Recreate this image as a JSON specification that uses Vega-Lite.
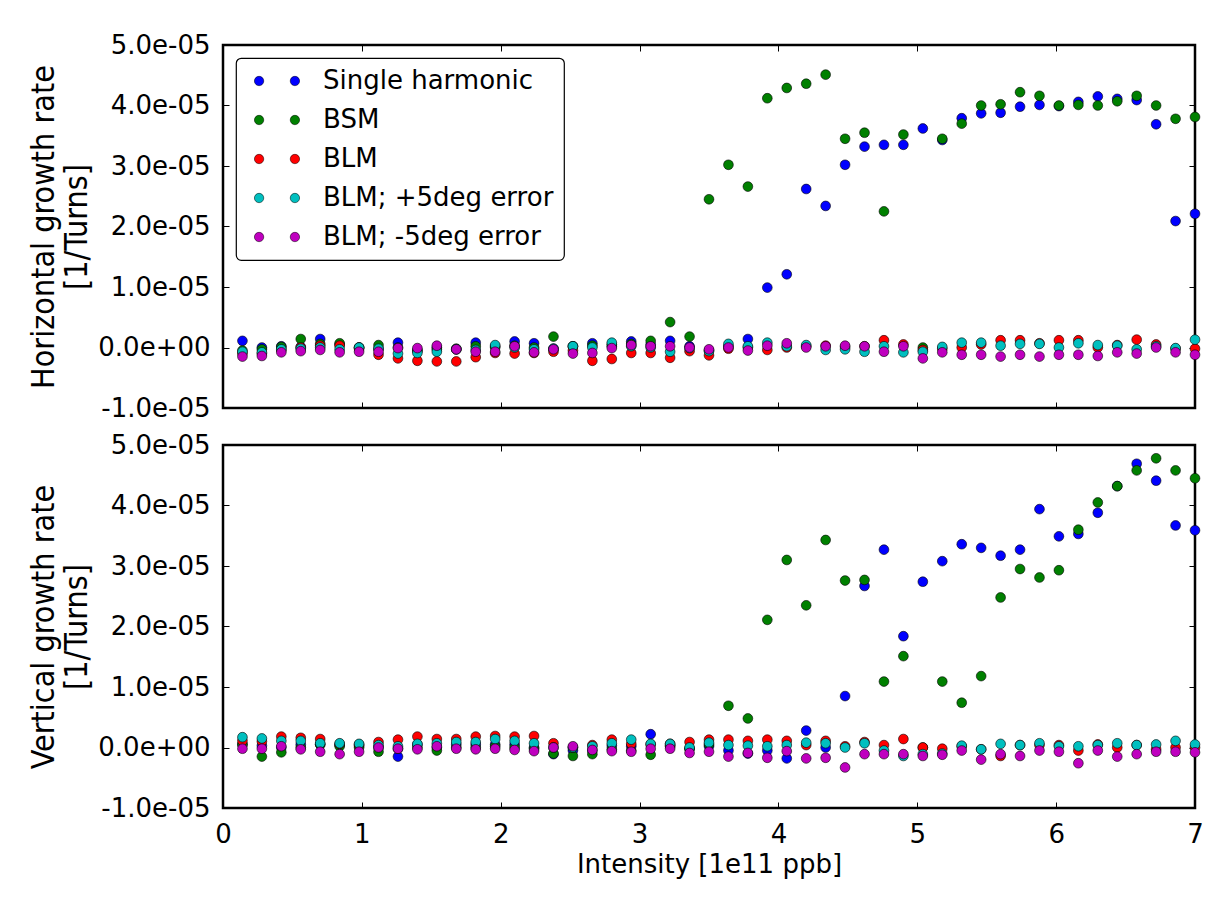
{
"$schema": "https://vega.github.io/schema/vega-lite/v6.json",
"padding": {"left": 26, "top": 30, "right": 10, "bottom": 10},
"background": "#ffffff",
"spacing": 7,
"config": {
  "font": "DejaVu Sans",
  "view": {"stroke": "#000000", "strokeWidth": 2.5},
  "axis": {"domain": false, "grid": false, "tickColor": "#000000", "tickSize": -6, "tickWidth": 1, "labelFont": "DejaVu Sans", "labelFontSize": 26, "labelColor": "#000000", "labelFlush": false, "labelOverlap": false, "labelPadding": 19, "titleFont": "DejaVu Sans", "titleFontWeight": "normal", "titleColor": "#000000"},
  "legend": {"strokeWidth": 1.2}
},
"datasets": {
"H": [
{"s":"Single harmonic","x":0.14,"y":0.11e-5},{"s":"Single harmonic","x":0.28,"y":0.0e-5},{"s":"Single harmonic","x":0.42,"y":0.02e-5},{"s":"Single harmonic","x":0.56,"y":0.01e-5},{"s":"Single harmonic","x":0.7,"y":0.14e-5},{"s":"Single harmonic","x":0.84,"y":0.05e-5},{"s":"Single harmonic","x":0.98,"y":0.0e-5},{"s":"Single harmonic","x":1.12,"y":-0.02e-5},{"s":"Single harmonic","x":1.26,"y":0.08e-5},{"s":"Single harmonic","x":1.4,"y":-0.05e-5},
{"s":"Single harmonic","x":1.54,"y":0.0e-5},{"s":"Single harmonic","x":1.68,"y":-0.03e-5},{"s":"Single harmonic","x":1.82,"y":0.08e-5},{"s":"Single harmonic","x":1.96,"y":0.02e-5},{"s":"Single harmonic","x":2.1,"y":0.10e-5},{"s":"Single harmonic","x":2.24,"y":0.07e-5},{"s":"Single harmonic","x":2.38,"y":-0.02e-5},{"s":"Single harmonic","x":2.52,"y":0.02e-5},{"s":"Single harmonic","x":2.66,"y":0.07e-5},{"s":"Single harmonic","x":2.8,"y":0.02e-5},
{"s":"Single harmonic","x":2.94,"y":0.10e-5},{"s":"Single harmonic","x":3.08,"y":0.05e-5},{"s":"Single harmonic","x":3.22,"y":0.11e-5},{"s":"Single harmonic","x":3.36,"y":0.02e-5},{"s":"Single harmonic","x":3.5,"y":-0.05e-5},{"s":"Single harmonic","x":3.64,"y":0.02e-5},{"s":"Single harmonic","x":3.78,"y":0.14e-5},{"s":"Single harmonic","x":3.92,"y":0.99e-5},{"s":"Single harmonic","x":4.06,"y":1.21e-5},{"s":"Single harmonic","x":4.2,"y":2.62e-5},
{"s":"Single harmonic","x":4.34,"y":2.34e-5},{"s":"Single harmonic","x":4.48,"y":3.02e-5},{"s":"Single harmonic","x":4.62,"y":3.32e-5},{"s":"Single harmonic","x":4.76,"y":3.35e-5},{"s":"Single harmonic","x":4.9,"y":3.35e-5},{"s":"Single harmonic","x":5.04,"y":3.62e-5},{"s":"Single harmonic","x":5.18,"y":3.43e-5},{"s":"Single harmonic","x":5.32,"y":3.79e-5},{"s":"Single harmonic","x":5.46,"y":3.87e-5},{"s":"Single harmonic","x":5.6,"y":3.88e-5},
{"s":"Single harmonic","x":5.74,"y":3.98e-5},{"s":"Single harmonic","x":5.88,"y":4.01e-5},{"s":"Single harmonic","x":6.02,"y":3.99e-5},{"s":"Single harmonic","x":6.16,"y":4.06e-5},{"s":"Single harmonic","x":6.3,"y":4.15e-5},{"s":"Single harmonic","x":6.44,"y":4.11e-5},{"s":"Single harmonic","x":6.58,"y":4.09e-5},{"s":"Single harmonic","x":6.72,"y":3.69e-5},{"s":"Single harmonic","x":6.86,"y":2.09e-5},{"s":"Single harmonic","x":7.0,"y":2.21e-5},
{"s":"BSM","x":0.14,"y":-0.05e-5},{"s":"BSM","x":0.28,"y":-0.03e-5},{"s":"BSM","x":0.42,"y":0.01e-5},{"s":"BSM","x":0.56,"y":0.14e-5},{"s":"BSM","x":0.7,"y":0.06e-5},{"s":"BSM","x":0.84,"y":0.07e-5},{"s":"BSM","x":0.98,"y":0.0e-5},{"s":"BSM","x":1.12,"y":0.04e-5},{"s":"BSM","x":1.26,"y":0.0e-5},{"s":"BSM","x":1.4,"y":-0.05e-5},
{"s":"BSM","x":1.54,"y":-0.03e-5},{"s":"BSM","x":1.68,"y":-0.02e-5},{"s":"BSM","x":1.82,"y":0.02e-5},{"s":"BSM","x":1.96,"y":0.0e-5},{"s":"BSM","x":2.1,"y":0.03e-5},{"s":"BSM","x":2.24,"y":0.0e-5},{"s":"BSM","x":2.38,"y":0.18e-5},{"s":"BSM","x":2.52,"y":0.02e-5},{"s":"BSM","x":2.66,"y":0.03e-5},{"s":"BSM","x":2.8,"y":0.05e-5},
{"s":"BSM","x":2.94,"y":0.06e-5},{"s":"BSM","x":3.08,"y":0.11e-5},{"s":"BSM","x":3.22,"y":0.42e-5},{"s":"BSM","x":3.36,"y":0.18e-5},{"s":"BSM","x":3.5,"y":2.45e-5},{"s":"BSM","x":3.64,"y":3.02e-5},{"s":"BSM","x":3.78,"y":2.66e-5},{"s":"BSM","x":3.92,"y":4.12e-5},{"s":"BSM","x":4.06,"y":4.29e-5},{"s":"BSM","x":4.2,"y":4.36e-5},
{"s":"BSM","x":4.34,"y":4.51e-5},{"s":"BSM","x":4.48,"y":3.45e-5},{"s":"BSM","x":4.62,"y":3.55e-5},{"s":"BSM","x":4.76,"y":2.25e-5},{"s":"BSM","x":4.9,"y":3.52e-5},{"s":"BSM","x":5.04,"y":0.0e-5},{"s":"BSM","x":5.18,"y":3.45e-5},{"s":"BSM","x":5.32,"y":3.70e-5},{"s":"BSM","x":5.46,"y":4.00e-5},{"s":"BSM","x":5.6,"y":4.02e-5},
{"s":"BSM","x":5.74,"y":4.22e-5},{"s":"BSM","x":5.88,"y":4.16e-5},{"s":"BSM","x":6.02,"y":4.00e-5},{"s":"BSM","x":6.16,"y":4.01e-5},{"s":"BSM","x":6.3,"y":4.00e-5},{"s":"BSM","x":6.44,"y":4.07e-5},{"s":"BSM","x":6.58,"y":4.16e-5},{"s":"BSM","x":6.72,"y":4.00e-5},{"s":"BSM","x":6.86,"y":3.78e-5},{"s":"BSM","x":7.0,"y":3.81e-5},
{"s":"BLM","x":0.14,"y":-0.10e-5},{"s":"BLM","x":0.28,"y":-0.10e-5},{"s":"BLM","x":0.42,"y":-0.04e-5},{"s":"BLM","x":0.56,"y":0.0e-5},{"s":"BLM","x":0.7,"y":0.03e-5},{"s":"BLM","x":0.84,"y":0.03e-5},{"s":"BLM","x":0.98,"y":-0.02e-5},{"s":"BLM","x":1.12,"y":-0.12e-5},{"s":"BLM","x":1.26,"y":-0.18e-5},{"s":"BLM","x":1.4,"y":-0.22e-5},
{"s":"BLM","x":1.54,"y":-0.23e-5},{"s":"BLM","x":1.68,"y":-0.23e-5},{"s":"BLM","x":1.82,"y":-0.16e-5},{"s":"BLM","x":1.96,"y":-0.09e-5},{"s":"BLM","x":2.1,"y":-0.10e-5},{"s":"BLM","x":2.24,"y":-0.09e-5},{"s":"BLM","x":2.38,"y":-0.07e-5},{"s":"BLM","x":2.52,"y":-0.05e-5},{"s":"BLM","x":2.66,"y":-0.22e-5},{"s":"BLM","x":2.8,"y":-0.19e-5},
{"s":"BLM","x":2.94,"y":-0.09e-5},{"s":"BLM","x":3.08,"y":-0.09e-5},{"s":"BLM","x":3.22,"y":-0.17e-5},{"s":"BLM","x":3.36,"y":-0.06e-5},{"s":"BLM","x":3.5,"y":-0.13e-5},{"s":"BLM","x":3.64,"y":-0.02e-5},{"s":"BLM","x":3.78,"y":0.0e-5},{"s":"BLM","x":3.92,"y":-0.04e-5},{"s":"BLM","x":4.06,"y":0.0e-5},{"s":"BLM","x":4.2,"y":0.02e-5},
{"s":"BLM","x":4.34,"y":0.03e-5},{"s":"BLM","x":4.48,"y":0.01e-5},{"s":"BLM","x":4.62,"y":0.02e-5},{"s":"BLM","x":4.76,"y":0.12e-5},{"s":"BLM","x":4.9,"y":0.05e-5},{"s":"BLM","x":5.04,"y":-0.04e-5},{"s":"BLM","x":5.18,"y":-0.02e-5},{"s":"BLM","x":5.32,"y":0.0e-5},{"s":"BLM","x":5.46,"y":0.05e-5},{"s":"BLM","x":5.6,"y":0.12e-5},
{"s":"BLM","x":5.74,"y":0.12e-5},{"s":"BLM","x":5.88,"y":0.07e-5},{"s":"BLM","x":6.02,"y":0.12e-5},{"s":"BLM","x":6.16,"y":0.12e-5},{"s":"BLM","x":6.3,"y":0.0e-5},{"s":"BLM","x":6.44,"y":0.04e-5},{"s":"BLM","x":6.58,"y":0.13e-5},{"s":"BLM","x":6.72,"y":0.05e-5},{"s":"BLM","x":6.86,"y":-0.02e-5},{"s":"BLM","x":7.0,"y":-0.02e-5},
{"s":"BLM; +5deg error","x":0.14,"y":-0.07e-5},{"s":"BLM; +5deg error","x":0.28,"y":-0.08e-5},{"s":"BLM; +5deg error","x":0.42,"y":-0.03e-5},{"s":"BLM; +5deg error","x":0.56,"y":-0.02e-5},{"s":"BLM; +5deg error","x":0.7,"y":0.0e-5},{"s":"BLM; +5deg error","x":0.84,"y":-0.03e-5},{"s":"BLM; +5deg error","x":0.98,"y":0.0e-5},{"s":"BLM; +5deg error","x":1.12,"y":-0.02e-5},{"s":"BLM; +5deg error","x":1.26,"y":-0.10e-5},{"s":"BLM; +5deg error","x":1.4,"y":-0.09e-5},
{"s":"BLM; +5deg error","x":1.54,"y":-0.07e-5},{"s":"BLM; +5deg error","x":1.68,"y":-0.03e-5},{"s":"BLM; +5deg error","x":1.82,"y":-0.04e-5},{"s":"BLM; +5deg error","x":1.96,"y":0.04e-5},{"s":"BLM; +5deg error","x":2.1,"y":0.0e-5},{"s":"BLM; +5deg error","x":2.24,"y":-0.03e-5},{"s":"BLM; +5deg error","x":2.38,"y":-0.02e-5},{"s":"BLM; +5deg error","x":2.52,"y":0.02e-5},{"s":"BLM; +5deg error","x":2.66,"y":0.0e-5},{"s":"BLM; +5deg error","x":2.8,"y":0.08e-5},
{"s":"BLM; +5deg error","x":2.94,"y":0.02e-5},{"s":"BLM; +5deg error","x":3.08,"y":0.0e-5},{"s":"BLM; +5deg error","x":3.22,"y":-0.07e-5},{"s":"BLM; +5deg error","x":3.36,"y":-0.01e-5},{"s":"BLM; +5deg error","x":3.5,"y":-0.06e-5},{"s":"BLM; +5deg error","x":3.64,"y":0.06e-5},{"s":"BLM; +5deg error","x":3.78,"y":0.02e-5},{"s":"BLM; +5deg error","x":3.92,"y":0.08e-5},{"s":"BLM; +5deg error","x":4.06,"y":0.02e-5},{"s":"BLM; +5deg error","x":4.2,"y":0.04e-5},
{"s":"BLM; +5deg error","x":4.34,"y":-0.04e-5},{"s":"BLM; +5deg error","x":4.48,"y":-0.03e-5},{"s":"BLM; +5deg error","x":4.62,"y":-0.07e-5},{"s":"BLM; +5deg error","x":4.76,"y":0.02e-5},{"s":"BLM; +5deg error","x":4.9,"y":-0.08e-5},{"s":"BLM; +5deg error","x":5.04,"y":-0.07e-5},{"s":"BLM; +5deg error","x":5.18,"y":0.01e-5},{"s":"BLM; +5deg error","x":5.32,"y":0.08e-5},{"s":"BLM; +5deg error","x":5.46,"y":0.08e-5},{"s":"BLM; +5deg error","x":5.6,"y":0.03e-5},
{"s":"BLM; +5deg error","x":5.74,"y":0.06e-5},{"s":"BLM; +5deg error","x":5.88,"y":0.06e-5},{"s":"BLM; +5deg error","x":6.02,"y":0.0e-5},{"s":"BLM; +5deg error","x":6.16,"y":0.07e-5},{"s":"BLM; +5deg error","x":6.3,"y":0.04e-5},{"s":"BLM; +5deg error","x":6.44,"y":0.03e-5},{"s":"BLM; +5deg error","x":6.58,"y":-0.03e-5},{"s":"BLM; +5deg error","x":6.72,"y":0.02e-5},{"s":"BLM; +5deg error","x":6.86,"y":-0.01e-5},{"s":"BLM; +5deg error","x":7.0,"y":0.13e-5},
{"s":"BLM; -5deg error","x":0.14,"y":-0.15e-5},{"s":"BLM; -5deg error","x":0.28,"y":-0.14e-5},{"s":"BLM; -5deg error","x":0.42,"y":-0.08e-5},{"s":"BLM; -5deg error","x":0.56,"y":-0.06e-5},{"s":"BLM; -5deg error","x":0.7,"y":-0.04e-5},{"s":"BLM; -5deg error","x":0.84,"y":-0.08e-5},{"s":"BLM; -5deg error","x":0.98,"y":-0.07e-5},{"s":"BLM; -5deg error","x":1.12,"y":-0.07e-5},{"s":"BLM; -5deg error","x":1.26,"y":-0.01e-5},{"s":"BLM; -5deg error","x":1.4,"y":-0.01e-5},
{"s":"BLM; -5deg error","x":1.54,"y":0.03e-5},{"s":"BLM; -5deg error","x":1.68,"y":-0.03e-5},{"s":"BLM; -5deg error","x":1.82,"y":-0.07e-5},{"s":"BLM; -5deg error","x":1.96,"y":-0.07e-5},{"s":"BLM; -5deg error","x":2.1,"y":0.02e-5},{"s":"BLM; -5deg error","x":2.24,"y":-0.08e-5},{"s":"BLM; -5deg error","x":2.38,"y":-0.03e-5},{"s":"BLM; -5deg error","x":2.52,"y":-0.10e-5},{"s":"BLM; -5deg error","x":2.66,"y":-0.09e-5},{"s":"BLM; -5deg error","x":2.8,"y":-0.01e-5},
{"s":"BLM; -5deg error","x":2.94,"y":0.04e-5},{"s":"BLM; -5deg error","x":3.08,"y":0.02e-5},{"s":"BLM; -5deg error","x":3.22,"y":0.02e-5},{"s":"BLM; -5deg error","x":3.36,"y":0.0e-5},{"s":"BLM; -5deg error","x":3.5,"y":-0.03e-5},{"s":"BLM; -5deg error","x":3.64,"y":0.0e-5},{"s":"BLM; -5deg error","x":3.78,"y":-0.05e-5},{"s":"BLM; -5deg error","x":3.92,"y":0.03e-5},{"s":"BLM; -5deg error","x":4.06,"y":0.07e-5},{"s":"BLM; -5deg error","x":4.2,"y":0.0e-5},
{"s":"BLM; -5deg error","x":4.34,"y":0.02e-5},{"s":"BLM; -5deg error","x":4.48,"y":0.03e-5},{"s":"BLM; -5deg error","x":4.62,"y":0.02e-5},{"s":"BLM; -5deg error","x":4.76,"y":-0.07e-5},{"s":"BLM; -5deg error","x":4.9,"y":0.02e-5},{"s":"BLM; -5deg error","x":5.04,"y":-0.18e-5},{"s":"BLM; -5deg error","x":5.18,"y":-0.08e-5},{"s":"BLM; -5deg error","x":5.32,"y":-0.12e-5},{"s":"BLM; -5deg error","x":5.46,"y":-0.12e-5},{"s":"BLM; -5deg error","x":5.6,"y":-0.15e-5},
{"s":"BLM; -5deg error","x":5.74,"y":-0.12e-5},{"s":"BLM; -5deg error","x":5.88,"y":-0.15e-5},{"s":"BLM; -5deg error","x":6.02,"y":-0.12e-5},{"s":"BLM; -5deg error","x":6.16,"y":-0.12e-5},{"s":"BLM; -5deg error","x":6.3,"y":-0.14e-5},{"s":"BLM; -5deg error","x":6.44,"y":-0.08e-5},{"s":"BLM; -5deg error","x":6.58,"y":-0.10e-5},{"s":"BLM; -5deg error","x":6.72,"y":0.0e-5},{"s":"BLM; -5deg error","x":6.86,"y":-0.08e-5},{"s":"BLM; -5deg error","x":7.0,"y":-0.12e-5}
],
"V": [
{"s":"Single harmonic","x":0.14,"y":0.05e-5},{"s":"Single harmonic","x":0.28,"y":0.03e-5},{"s":"Single harmonic","x":0.42,"y":0.0e-5},{"s":"Single harmonic","x":0.56,"y":0.05e-5},{"s":"Single harmonic","x":0.7,"y":0.05e-5},{"s":"Single harmonic","x":0.84,"y":0.04e-5},{"s":"Single harmonic","x":0.98,"y":0.03e-5},{"s":"Single harmonic","x":1.12,"y":0.0e-5},{"s":"Single harmonic","x":1.26,"y":-0.15e-5},{"s":"Single harmonic","x":1.4,"y":0.05e-5},
{"s":"Single harmonic","x":1.54,"y":0.0e-5},{"s":"Single harmonic","x":1.68,"y":0.05e-5},{"s":"Single harmonic","x":1.82,"y":0.05e-5},{"s":"Single harmonic","x":1.96,"y":0.05e-5},{"s":"Single harmonic","x":2.1,"y":0.05e-5},{"s":"Single harmonic","x":2.24,"y":0.0e-5},{"s":"Single harmonic","x":2.38,"y":-0.11e-5},{"s":"Single harmonic","x":2.52,"y":-0.05e-5},{"s":"Single harmonic","x":2.66,"y":-0.05e-5},{"s":"Single harmonic","x":2.8,"y":0.03e-5},
{"s":"Single harmonic","x":2.94,"y":0.02e-5},{"s":"Single harmonic","x":3.08,"y":0.22e-5},{"s":"Single harmonic","x":3.22,"y":0.03e-5},{"s":"Single harmonic","x":3.36,"y":-0.02e-5},{"s":"Single harmonic","x":3.5,"y":0.02e-5},{"s":"Single harmonic","x":3.64,"y":-0.05e-5},{"s":"Single harmonic","x":3.78,"y":-0.10e-5},{"s":"Single harmonic","x":3.92,"y":-0.05e-5},{"s":"Single harmonic","x":4.06,"y":-0.18e-5},{"s":"Single harmonic","x":4.2,"y":0.28e-5},
{"s":"Single harmonic","x":4.34,"y":0.0e-5},{"s":"Single harmonic","x":4.48,"y":0.85e-5},{"s":"Single harmonic","x":4.62,"y":2.67e-5},{"s":"Single harmonic","x":4.76,"y":3.27e-5},{"s":"Single harmonic","x":4.9,"y":1.84e-5},{"s":"Single harmonic","x":5.04,"y":2.74e-5},{"s":"Single harmonic","x":5.18,"y":3.08e-5},{"s":"Single harmonic","x":5.32,"y":3.36e-5},{"s":"Single harmonic","x":5.46,"y":3.30e-5},{"s":"Single harmonic","x":5.6,"y":3.17e-5},
{"s":"Single harmonic","x":5.74,"y":3.27e-5},{"s":"Single harmonic","x":5.88,"y":3.94e-5},{"s":"Single harmonic","x":6.02,"y":3.49e-5},{"s":"Single harmonic","x":6.16,"y":3.53e-5},{"s":"Single harmonic","x":6.3,"y":3.88e-5},{"s":"Single harmonic","x":6.44,"y":4.32e-5},{"s":"Single harmonic","x":6.58,"y":4.69e-5},{"s":"Single harmonic","x":6.72,"y":4.41e-5},{"s":"Single harmonic","x":6.86,"y":3.67e-5},{"s":"Single harmonic","x":7.0,"y":3.59e-5},
{"s":"BSM","x":0.14,"y":0.05e-5},{"s":"BSM","x":0.28,"y":-0.15e-5},{"s":"BSM","x":0.42,"y":-0.08e-5},{"s":"BSM","x":0.56,"y":0.0e-5},{"s":"BSM","x":0.7,"y":0.05e-5},{"s":"BSM","x":0.84,"y":0.02e-5},{"s":"BSM","x":0.98,"y":0.0e-5},{"s":"BSM","x":1.12,"y":-0.07e-5},{"s":"BSM","x":1.26,"y":-0.02e-5},{"s":"BSM","x":1.4,"y":0.0e-5},
{"s":"BSM","x":1.54,"y":-0.05e-5},{"s":"BSM","x":1.68,"y":0.0e-5},{"s":"BSM","x":1.82,"y":0.0e-5},{"s":"BSM","x":1.96,"y":0.02e-5},{"s":"BSM","x":2.1,"y":0.0e-5},{"s":"BSM","x":2.24,"y":-0.02e-5},{"s":"BSM","x":2.38,"y":-0.10e-5},{"s":"BSM","x":2.52,"y":-0.14e-5},{"s":"BSM","x":2.66,"y":-0.11e-5},{"s":"BSM","x":2.8,"y":-0.03e-5},
{"s":"BSM","x":2.94,"y":-0.05e-5},{"s":"BSM","x":3.08,"y":-0.12e-5},{"s":"BSM","x":3.22,"y":0.02e-5},{"s":"BSM","x":3.36,"y":-0.02e-5},{"s":"BSM","x":3.5,"y":0.05e-5},{"s":"BSM","x":3.64,"y":0.69e-5},{"s":"BSM","x":3.78,"y":0.48e-5},{"s":"BSM","x":3.92,"y":2.11e-5},{"s":"BSM","x":4.06,"y":3.10e-5},{"s":"BSM","x":4.2,"y":2.35e-5},
{"s":"BSM","x":4.34,"y":3.43e-5},{"s":"BSM","x":4.48,"y":2.76e-5},{"s":"BSM","x":4.62,"y":2.77e-5},{"s":"BSM","x":4.76,"y":1.09e-5},{"s":"BSM","x":4.9,"y":1.51e-5},{"s":"BSM","x":5.04,"y":0.0e-5},{"s":"BSM","x":5.18,"y":1.09e-5},{"s":"BSM","x":5.32,"y":0.74e-5},{"s":"BSM","x":5.46,"y":1.18e-5},{"s":"BSM","x":5.6,"y":2.48e-5},
{"s":"BSM","x":5.74,"y":2.95e-5},{"s":"BSM","x":5.88,"y":2.81e-5},{"s":"BSM","x":6.02,"y":2.93e-5},{"s":"BSM","x":6.16,"y":3.60e-5},{"s":"BSM","x":6.3,"y":4.05e-5},{"s":"BSM","x":6.44,"y":4.32e-5},{"s":"BSM","x":6.58,"y":4.58e-5},{"s":"BSM","x":6.72,"y":4.78e-5},{"s":"BSM","x":6.86,"y":4.58e-5},{"s":"BSM","x":7.0,"y":4.45e-5},
{"s":"BLM","x":0.14,"y":0.11e-5},{"s":"BLM","x":0.28,"y":0.10e-5},{"s":"BLM","x":0.42,"y":0.18e-5},{"s":"BLM","x":0.56,"y":0.16e-5},{"s":"BLM","x":0.7,"y":0.14e-5},{"s":"BLM","x":0.84,"y":0.06e-5},{"s":"BLM","x":0.98,"y":0.05e-5},{"s":"BLM","x":1.12,"y":0.09e-5},{"s":"BLM","x":1.26,"y":0.13e-5},{"s":"BLM","x":1.4,"y":0.18e-5},
{"s":"BLM","x":1.54,"y":0.14e-5},{"s":"BLM","x":1.68,"y":0.14e-5},{"s":"BLM","x":1.82,"y":0.18e-5},{"s":"BLM","x":1.96,"y":0.19e-5},{"s":"BLM","x":2.1,"y":0.18e-5},{"s":"BLM","x":2.24,"y":0.19e-5},{"s":"BLM","x":2.38,"y":0.07e-5},{"s":"BLM","x":2.52,"y":0.0e-5},{"s":"BLM","x":2.66,"y":0.04e-5},{"s":"BLM","x":2.8,"y":0.13e-5},
{"s":"BLM","x":2.94,"y":0.06e-5},{"s":"BLM","x":3.08,"y":0.05e-5},{"s":"BLM","x":3.22,"y":0.06e-5},{"s":"BLM","x":3.36,"y":0.09e-5},{"s":"BLM","x":3.5,"y":0.13e-5},{"s":"BLM","x":3.64,"y":0.13e-5},{"s":"BLM","x":3.78,"y":0.11e-5},{"s":"BLM","x":3.92,"y":0.13e-5},{"s":"BLM","x":4.06,"y":0.11e-5},{"s":"BLM","x":4.2,"y":0.04e-5},
{"s":"BLM","x":4.34,"y":0.11e-5},{"s":"BLM","x":4.48,"y":0.02e-5},{"s":"BLM","x":4.62,"y":0.09e-5},{"s":"BLM","x":4.76,"y":0.04e-5},{"s":"BLM","x":4.9,"y":0.14e-5},{"s":"BLM","x":5.04,"y":0.0e-5},{"s":"BLM","x":5.18,"y":-0.02e-5},{"s":"BLM","x":5.32,"y":0.02e-5},{"s":"BLM","x":5.46,"y":-0.03e-5},{"s":"BLM","x":5.6,"y":-0.14e-5},
{"s":"BLM","x":5.74,"y":0.04e-5},{"s":"BLM","x":5.88,"y":0.04e-5},{"s":"BLM","x":6.02,"y":0.04e-5},{"s":"BLM","x":6.16,"y":-0.05e-5},{"s":"BLM","x":6.3,"y":0.05e-5},{"s":"BLM","x":6.44,"y":0.0e-5},{"s":"BLM","x":6.58,"y":0.04e-5},{"s":"BLM","x":6.72,"y":-0.03e-5},{"s":"BLM","x":6.86,"y":0.0e-5},{"s":"BLM","x":7.0,"y":0.0e-5},
{"s":"BLM; +5deg error","x":0.14,"y":0.17e-5},{"s":"BLM; +5deg error","x":0.28,"y":0.15e-5},{"s":"BLM; +5deg error","x":0.42,"y":0.11e-5},{"s":"BLM; +5deg error","x":0.56,"y":0.11e-5},{"s":"BLM; +5deg error","x":0.7,"y":0.07e-5},{"s":"BLM; +5deg error","x":0.84,"y":0.07e-5},{"s":"BLM; +5deg error","x":0.98,"y":0.06e-5},{"s":"BLM; +5deg error","x":1.12,"y":0.04e-5},{"s":"BLM; +5deg error","x":1.26,"y":0.02e-5},{"s":"BLM; +5deg error","x":1.4,"y":0.06e-5},
{"s":"BLM; +5deg error","x":1.54,"y":0.07e-5},{"s":"BLM; +5deg error","x":1.68,"y":0.09e-5},{"s":"BLM; +5deg error","x":1.82,"y":0.09e-5},{"s":"BLM; +5deg error","x":1.96,"y":0.14e-5},{"s":"BLM; +5deg error","x":2.1,"y":0.11e-5},{"s":"BLM; +5deg error","x":2.24,"y":0.07e-5},{"s":"BLM; +5deg error","x":2.38,"y":0.0e-5},{"s":"BLM; +5deg error","x":2.52,"y":0.0e-5},{"s":"BLM; +5deg error","x":2.66,"y":0.02e-5},{"s":"BLM; +5deg error","x":2.8,"y":0.07e-5},
{"s":"BLM; +5deg error","x":2.94,"y":0.13e-5},{"s":"BLM; +5deg error","x":3.08,"y":0.06e-5},{"s":"BLM; +5deg error","x":3.22,"y":0.06e-5},{"s":"BLM; +5deg error","x":3.36,"y":0.0e-5},{"s":"BLM; +5deg error","x":3.5,"y":0.08e-5},{"s":"BLM; +5deg error","x":3.64,"y":0.04e-5},{"s":"BLM; +5deg error","x":3.78,"y":0.03e-5},{"s":"BLM; +5deg error","x":3.92,"y":0.02e-5},{"s":"BLM; +5deg error","x":4.06,"y":0.04e-5},{"s":"BLM; +5deg error","x":4.2,"y":0.08e-5},
{"s":"BLM; +5deg error","x":4.34,"y":0.07e-5},{"s":"BLM; +5deg error","x":4.48,"y":0.0e-5},{"s":"BLM; +5deg error","x":4.62,"y":0.07e-5},{"s":"BLM; +5deg error","x":4.76,"y":-0.05e-5},{"s":"BLM; +5deg error","x":4.9,"y":-0.14e-5},{"s":"BLM; +5deg error","x":5.04,"y":-0.11e-5},{"s":"BLM; +5deg error","x":5.18,"y":-0.10e-5},{"s":"BLM; +5deg error","x":5.32,"y":0.03e-5},{"s":"BLM; +5deg error","x":5.46,"y":-0.03e-5},{"s":"BLM; +5deg error","x":5.6,"y":0.06e-5},
{"s":"BLM; +5deg error","x":5.74,"y":0.04e-5},{"s":"BLM; +5deg error","x":5.88,"y":0.07e-5},{"s":"BLM; +5deg error","x":6.02,"y":0.02e-5},{"s":"BLM; +5deg error","x":6.16,"y":0.02e-5},{"s":"BLM; +5deg error","x":6.3,"y":0.04e-5},{"s":"BLM; +5deg error","x":6.44,"y":0.07e-5},{"s":"BLM; +5deg error","x":6.58,"y":0.04e-5},{"s":"BLM; +5deg error","x":6.72,"y":0.05e-5},{"s":"BLM; +5deg error","x":6.86,"y":0.11e-5},{"s":"BLM; +5deg error","x":7.0,"y":0.05e-5},
{"s":"BLM; -5deg error","x":0.14,"y":-0.02e-5},{"s":"BLM; -5deg error","x":0.28,"y":-0.02e-5},{"s":"BLM; -5deg error","x":0.42,"y":0.02e-5},{"s":"BLM; -5deg error","x":0.56,"y":-0.03e-5},{"s":"BLM; -5deg error","x":0.7,"y":-0.07e-5},{"s":"BLM; -5deg error","x":0.84,"y":-0.11e-5},{"s":"BLM; -5deg error","x":0.98,"y":-0.07e-5},{"s":"BLM; -5deg error","x":1.12,"y":0.0e-5},{"s":"BLM; -5deg error","x":1.26,"y":-0.02e-5},{"s":"BLM; -5deg error","x":1.4,"y":-0.03e-5},
{"s":"BLM; -5deg error","x":1.54,"y":0.02e-5},{"s":"BLM; -5deg error","x":1.68,"y":-0.02e-5},{"s":"BLM; -5deg error","x":1.82,"y":-0.03e-5},{"s":"BLM; -5deg error","x":1.96,"y":-0.02e-5},{"s":"BLM; -5deg error","x":2.1,"y":-0.04e-5},{"s":"BLM; -5deg error","x":2.24,"y":-0.06e-5},{"s":"BLM; -5deg error","x":2.38,"y":0.0e-5},{"s":"BLM; -5deg error","x":2.52,"y":0.02e-5},{"s":"BLM; -5deg error","x":2.66,"y":-0.04e-5},{"s":"BLM; -5deg error","x":2.8,"y":-0.06e-5},
{"s":"BLM; -5deg error","x":2.94,"y":-0.07e-5},{"s":"BLM; -5deg error","x":3.08,"y":-0.02e-5},{"s":"BLM; -5deg error","x":3.22,"y":-0.02e-5},{"s":"BLM; -5deg error","x":3.36,"y":-0.09e-5},{"s":"BLM; -5deg error","x":3.5,"y":-0.07e-5},{"s":"BLM; -5deg error","x":3.64,"y":-0.15e-5},{"s":"BLM; -5deg error","x":3.78,"y":-0.09e-5},{"s":"BLM; -5deg error","x":3.92,"y":-0.17e-5},{"s":"BLM; -5deg error","x":4.06,"y":-0.06e-5},{"s":"BLM; -5deg error","x":4.2,"y":-0.18e-5},
{"s":"BLM; -5deg error","x":4.34,"y":-0.17e-5},{"s":"BLM; -5deg error","x":4.48,"y":-0.33e-5},{"s":"BLM; -5deg error","x":4.62,"y":-0.11e-5},{"s":"BLM; -5deg error","x":4.76,"y":-0.11e-5},{"s":"BLM; -5deg error","x":4.9,"y":-0.11e-5},{"s":"BLM; -5deg error","x":5.04,"y":-0.14e-5},{"s":"BLM; -5deg error","x":5.18,"y":-0.12e-5},{"s":"BLM; -5deg error","x":5.32,"y":-0.05e-5},{"s":"BLM; -5deg error","x":5.46,"y":-0.20e-5},{"s":"BLM; -5deg error","x":5.6,"y":-0.11e-5},
{"s":"BLM; -5deg error","x":5.74,"y":-0.14e-5},{"s":"BLM; -5deg error","x":5.88,"y":-0.05e-5},{"s":"BLM; -5deg error","x":6.02,"y":-0.07e-5},{"s":"BLM; -5deg error","x":6.16,"y":-0.26e-5},{"s":"BLM; -5deg error","x":6.3,"y":-0.05e-5},{"s":"BLM; -5deg error","x":6.44,"y":-0.15e-5},{"s":"BLM; -5deg error","x":6.58,"y":-0.11e-5},{"s":"BLM; -5deg error","x":6.72,"y":-0.07e-5},{"s":"BLM; -5deg error","x":6.86,"y":-0.07e-5},{"s":"BLM; -5deg error","x":7.0,"y":-0.08e-5}
]
},
"resolve": {"legend": {"color": "independent"}},
"vconcat": [
{
  "width": 972, "height": 363,
  "data": {"name": "H"},
  "layer": [
    {
      "mark": {"type": "point", "filled": true, "shape": "circle", "size": 95, "stroke": "#000000", "strokeWidth": 0.6, "opacity": 1},
      "encoding": {
        "x": {"field": "x", "type": "quantitative", "scale": {"domain": [0, 7], "nice": false, "zero": false}, "axis": {"orient": "bottom", "values": [0,1,2,3,4,5,6,7], "labels": false, "title": null}},
        "y": {"field": "y", "type": "quantitative", "scale": {"domain": [-1e-5, 5e-5], "nice": false, "zero": false}, "axis": {"orient": "left", "values": [-1e-5, 0, 1e-5, 2e-5, 3e-5, 4e-5, 5e-5], "labelExpr": "(datum.value < 0 ? '-' : '') + replace(replace(format(abs(datum.value), '.1e'), 'e-', 'e-0'), 'e+', 'e+0')", "title": ["Horizontal growth rate", "[1/Turns]"], "titleFont": "DejaVu Sans Condensed", "titleFontSize": 32, "titleLineHeight": 33, "titlePadding": 4}},
        "color": {"field": "s", "type": "nominal", "sort": null,
          "scale": {"domain": ["Single harmonic", "BSM", "BLM", "BLM; +5deg error", "BLM; -5deg error"], "range": ["#0000ff", "#008000", "#ff0000", "#00bfbf", "#bf00bf"]},
          "legend": {"orient": "top-left", "offset": 13, "title": null, "symbolType": "M -4.82 0 A 1 1 0 1 1 -2.82 0 A 1 1 0 1 1 -4.82 0 Z M 2.82 0 A 1 1 0 1 1 4.82 0 A 1 1 0 1 1 2.82 0 Z", "symbolSize": 88, "symbolStrokeColor": "#000000", "symbolStrokeWidth": 0.5, "symbolOpacity": 1, "labelFont": "DejaVu Sans", "labelFontSize": 26, "labelColor": "#000000", "labelOffset": 33, "symbolOffset": 18, "padding": 10, "rowPadding": 13, "strokeColor": "#000000", "fillColor": "#ffffff", "cornerRadius": 5, "labelLimit": 500}}
      }
    },
    {
      "mark": {"type": "point", "opacity": 0},
      "encoding": {
        "x": {"field": "x", "type": "quantitative", "axis": {"orient": "top", "values": [0,1,2,3,4,5,6,7], "labels": false, "title": null}},
        "y": {"field": "y", "type": "quantitative", "axis": {"orient": "right", "values": [-1e-5, 0, 1e-5, 2e-5, 3e-5, 4e-5, 5e-5], "labels": false, "title": null}}
      }
    }
  ],
  "resolve": {"axis": {"x": "independent", "y": "independent"}}
},
{
  "width": 972, "height": 363,
  "data": {"name": "V"},
  "layer": [
    {
      "mark": {"type": "point", "filled": true, "shape": "circle", "size": 95, "stroke": "#000000", "strokeWidth": 0.6, "opacity": 1},
      "encoding": {
        "x": {"field": "x", "type": "quantitative", "scale": {"domain": [0, 7], "nice": false, "zero": false}, "axis": {"orient": "bottom", "values": [0,1,2,3,4,5,6,7], "format": "d", "title": "Intensity [1e11 ppb]", "titleFontSize": 26, "titlePadding": 4}},
        "y": {"field": "y", "type": "quantitative", "scale": {"domain": [-1e-5, 5e-5], "nice": false, "zero": false}, "axis": {"orient": "left", "values": [-1e-5, 0, 1e-5, 2e-5, 3e-5, 4e-5, 5e-5], "labelExpr": "(datum.value < 0 ? '-' : '') + replace(replace(format(abs(datum.value), '.1e'), 'e-', 'e-0'), 'e+', 'e+0')", "title": ["Vertical growth rate", "[1/Turns]"], "titleFont": "DejaVu Sans Condensed", "titleFontSize": 32, "titleLineHeight": 33, "titlePadding": 4}},
        "color": {"field": "s", "type": "nominal", "sort": null,
          "scale": {"domain": ["Single harmonic", "BSM", "BLM", "BLM; +5deg error", "BLM; -5deg error"], "range": ["#0000ff", "#008000", "#ff0000", "#00bfbf", "#bf00bf"]},
          "legend": null}
      }
    },
    {
      "mark": {"type": "point", "opacity": 0},
      "encoding": {
        "x": {"field": "x", "type": "quantitative", "axis": {"orient": "top", "values": [0,1,2,3,4,5,6,7], "labels": false, "title": null}},
        "y": {"field": "y", "type": "quantitative", "axis": {"orient": "right", "values": [-1e-5, 0, 1e-5, 2e-5, 3e-5, 4e-5, 5e-5], "labels": false, "title": null}}
      }
    }
  ],
  "resolve": {"axis": {"x": "independent", "y": "independent"}}
}
]
}
